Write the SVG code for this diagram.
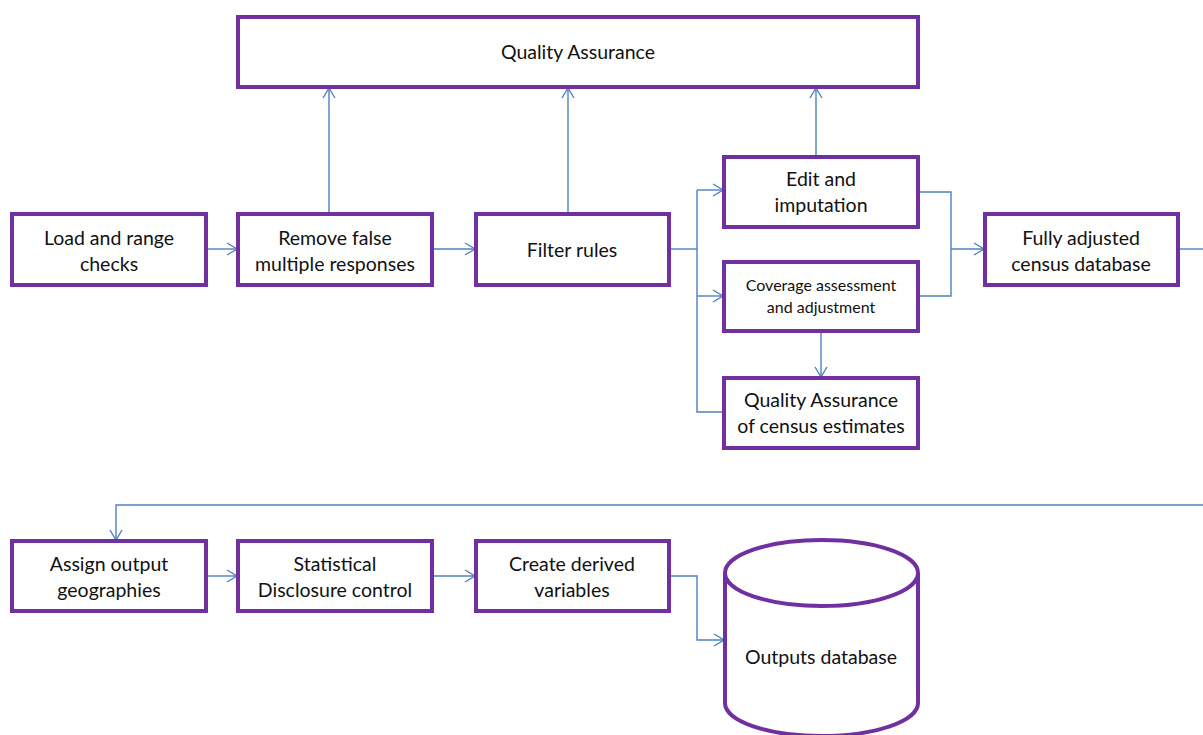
<svg xmlns="http://www.w3.org/2000/svg" width="1203" height="735" viewBox="0 0 1203 735">
<style>
.box{fill:#fff;stroke:#7030A0;stroke-width:4}
.t{font-family:Lato,"Liberation Sans",sans-serif;font-size:19.5px;fill:#111;text-anchor:middle}
.s{font-size:16px}
.c{fill:none;stroke:#4F81BD;stroke-width:1.4}
</style>
<defs>
<marker id="a" viewBox="0 0 12 14" refX="11" refY="7" markerWidth="12" markerHeight="14" markerUnits="userSpaceOnUse" orient="auto">
<path d="M1,1 L11,7 L1,13" fill="none" stroke="#4F81BD" stroke-width="1.4"/>
</marker>
</defs>
<rect width="1203" height="735" fill="#fff"/>
<g id="connectors">
<path class="c" d="M206,249 H237" marker-end="url(#a)"/>
<path class="c" d="M432,249 H475" marker-end="url(#a)"/>
<path class="c" d="M329,214 V88" marker-end="url(#a)"/>
<path class="c" d="M568,214 V88" marker-end="url(#a)"/>
<path class="c" d="M816,157 V88" marker-end="url(#a)"/>
<path class="c" d="M669,249 H697"/>
<path class="c" d="M697,190 V412 H724"/>
<path class="c" d="M697,190 H723" marker-end="url(#a)"/>
<path class="c" d="M697,296 H723" marker-end="url(#a)"/>
<path class="c" d="M821,331 V377" marker-end="url(#a)"/>
<path class="c" d="M918,192 H951 V296 H918"/>
<path class="c" d="M951,249 H984" marker-end="url(#a)"/>
<path class="c" d="M1178,249 H1203"/>
<path class="c" d="M1203,505 H116 V540" marker-end="url(#a)"/>
<path class="c" d="M206,576 H237" marker-end="url(#a)"/>
<path class="c" d="M432,576 H475" marker-end="url(#a)"/>
<path class="c" d="M669,576 H697 V640 H724" marker-end="url(#a)"/>
</g>
<g id="qa"><rect class="box" x="238" y="17" width="680" height="70"/><text class="t" x="578" y="59">Quality Assurance</text></g>
<g id="load"><rect class="box" x="12" y="214" width="194" height="71"/><text class="t" x="109" y="245">Load and range</text><text class="t" x="109" y="271">checks</text></g>
<g id="remove"><rect class="box" x="238" y="214" width="194" height="71"/><text class="t" x="335" y="245">Remove false</text><text class="t" x="335" y="271">multiple responses</text></g>
<g id="filter"><rect class="box" x="476" y="214" width="193" height="71"/><text class="t" x="572" y="257">Filter rules</text></g>
<g id="edit"><rect class="box" x="724" y="157" width="194" height="70"/><text class="t" x="821" y="186">Edit and</text><text class="t" x="821" y="212">imputation</text></g>
<g id="coverage"><rect class="box" x="724" y="262" width="194" height="69"/><text class="t s" x="821" y="291">Coverage assessment</text><text class="t s" x="821" y="313">and adjustment</text></g>
<g id="qaest"><rect class="box" x="724" y="378" width="194" height="70"/><text class="t" x="821" y="407">Quality Assurance</text><text class="t" x="821" y="433">of census estimates</text></g>
<g id="fully"><rect class="box" x="985" y="214" width="193" height="71"/><text class="t" x="1081" y="245">Fully adjusted</text><text class="t" x="1081" y="271">census database</text></g>
<g id="assign"><rect class="box" x="12" y="541" width="194" height="70"/><text class="t" x="109" y="571">Assign output</text><text class="t" x="109" y="597">geographies</text></g>
<g id="sdc"><rect class="box" x="238" y="541" width="194" height="70"/><text class="t" x="335" y="571">Statistical</text><text class="t" x="335" y="597">Disclosure control</text></g>
<g id="derived"><rect class="box" x="476" y="541" width="193" height="70"/><text class="t" x="572" y="571">Create derived</text><text class="t" x="572" y="597">variables</text></g>
<g id="outputs">
<path class="box" d="M725,573 V703 A96.5,33 0 0 0 918,703 V573"/>
<ellipse class="box" cx="821.5" cy="573" rx="96.5" ry="33"/>
<text class="t" x="821" y="664">Outputs database</text>
</g>
</svg>
